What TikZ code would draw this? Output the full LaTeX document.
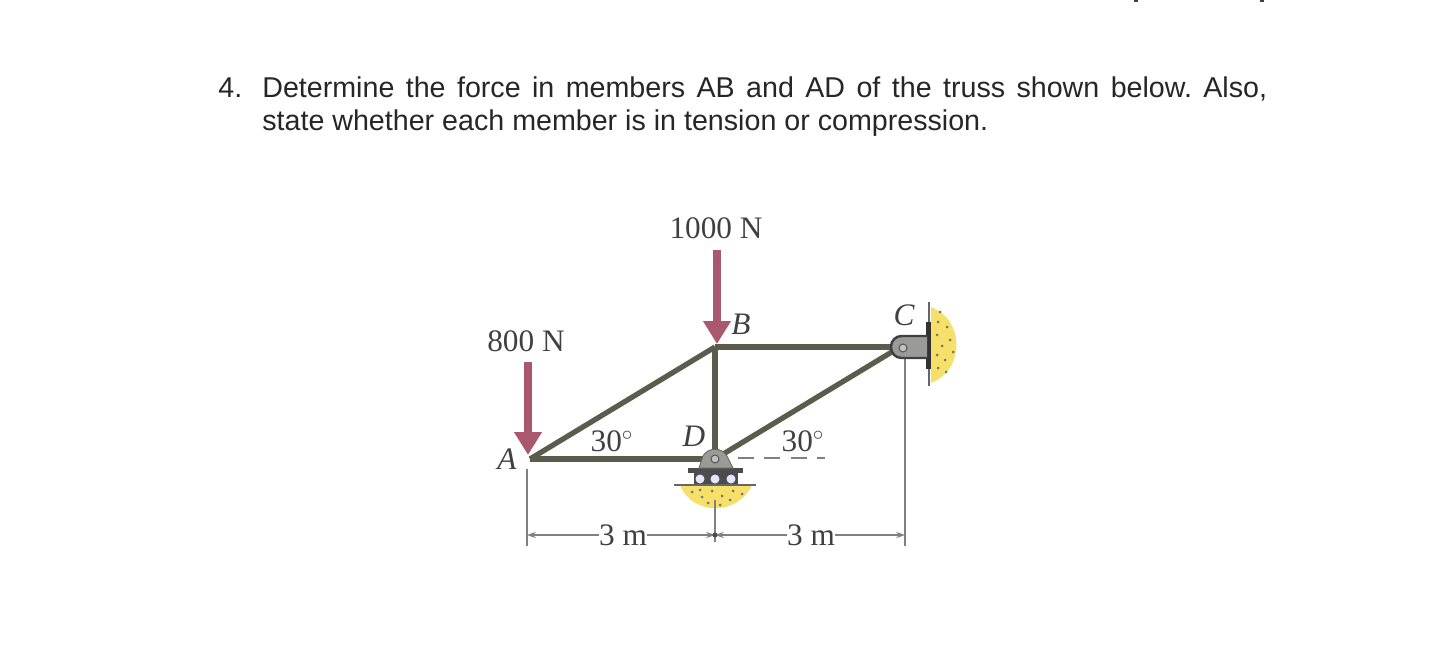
\documentclass[tikz,border=0pt]{standalone}
\usepackage{fontspec}
\setmainfont{Liberation Sans}
\newfontfamily\labelfont{Liberation Serif}
\usetikzlibrary{arrows.meta}
\definecolor{membercol}{HTML}{5A5C4C}
\definecolor{loadcol}{HTML}{A9586F}
\definecolor{sandcol}{HTML}{F7E06A}
\definecolor{steelcol}{HTML}{9A9A96}
\tikzset{
	question/.style={anchor=base west, inner sep=0pt, font=\fontsize{16.3}{20}\selectfont\frenchspacing, text=black!85},
	label/.style={inner sep=0pt, font=\labelfont\fontsize{17.8}{20}\selectfont, text=black!75},
	letter/.style={label, font=\labelfont\itshape\fontsize{17.8}{20}\selectfont},
	member/.style={draw=membercol, line width=3pt},
	load/.style={draw=loadcol, line width=4.8pt, -{Triangle[length=13pt, width=15pt]}},
	dimline/.style={draw=black!50, line width=0.7pt},
	dimtip/.style={dimline, -{Stealth[length=5pt, width=3.5pt]}},
	ground/.style={draw=black!60, line width=1.1pt},
	sand/.style={fill=sandcol, draw=none},
	speck/.style={fill=black!55, draw=none}
}
\begin{document}
\begin{tikzpicture}[x=0.02cm, y=-0.02cm]
	\useasboundingbox (0,0) rectangle (1440,652);
	% marks on the top edge
	\fill[black!75] (1134,0) rectangle (1138,2);
	\fill[black!75] (1260,0) rectangle (1264,2);
	% question
	\node[question] (num) at (218,98) {4.};
	\node[question] (line1) at (262,98) {\makebox[20.1cm][s]{Determine the force in members AB and AD of the truss shown below. Also,}};
	\node[question] (line2) at (262,131) {state whether each member is in tension or compression.};
	% joints
	\coordinate (A) at (530,459);
	\coordinate (B) at (715,347);
	\coordinate (C) at (900,347);
	\coordinate (D) at (715,459);
	% sand
	\fill[sand] (680,485) .. controls (692,516) and (738,516) .. (752,485) -- cycle;
	\fill[sand] (931,307) .. controls (965,320) and (965,370) .. (931,383) -- cycle;
	\foreach \sx/\sy in {692/492,702/497,712/491,722/496,733/491,742/494,708/503,720/505,730/500,700/490}
		\fill[speck] (\sx,\sy) circle [radius=1.5];
	\foreach \sx/\sy in {938/322,947/327,937/335,950/340,942/346,953/352,937/355,945/360,938/368,946/372,940/312}
		\fill[speck] (\sx,\sy) circle [radius=1.5];
	% dimension lines
	\coordinate (dimA) at (527,535);
	\coordinate (dimD) at (715,535);
	\coordinate (dimC) at (905,535);
	\draw[dimline] (527,469) -- (527,546);
	\draw[dimline] (715,500) -- (715,542);
	\draw[dimline] (905,357) -- (905,546);
	\node[label] (dim1) at (623,535) {3 m};
	\node[label] (dim2) at (811,535) {3 m};
	\draw[dimtip] (dim1) -- (dimA);
	\draw[dimtip] (dim1) -- (dimD);
	\draw[dimtip] (dim2) -- (dimD);
	\draw[dimtip] (dim2) -- (dimC);
	\fill[black!70] (dimD) circle [radius=2.5];
	\coordinate (dash1) at (738,458);
	\coordinate (dash2) at (825,458);
	\draw[dimline, line width=1.1pt, dash pattern=on 9pt off 6pt] (dash1) -- (dash2);
	% members
	\draw[member] (A) -- (B);
	\draw[member] (A) -- (D);
	\draw[member] (B) -- (C);
	\draw[member] (B) -- (D);
	\draw[member] (D) -- (C);
	% support at D
	\fill[black!70] (694,472) rectangle (738,485);
	\draw[ground] (674,485) -- (756,485);
	\fill[black!70] (688,468) rectangle (743,473);
	\foreach \rx in {700,715,731}
		\fill[blue!10] (\rx,479) circle [radius=4.5];
	\fill[steelcol, draw=black!60, line width=0.5pt] (699,468) -- (703,456) .. controls (708,447) and (722,447) .. (727,456) -- (733,468) -- cycle;
	\draw[black!65, fill=steelcol!60, line width=0.6pt] (D) circle [radius=4];
	% support at C
	\draw[ground, line width=1.4pt] (929,302) -- (929,386);
	\fill[black!80] (926,322) rectangle (931,369);
	\draw[black!75, fill=steelcol, line width=1.4pt, rounded corners=6pt] (927,336) -- (891,336) -- (891,358) -- (927,358);
	\draw[black!65, fill=steelcol!60, line width=0.6pt] (903,348) circle [radius=4];
	% loads
	\coordinate (load1a) at (528,362);
	\coordinate (load1b) at (528,455);
	\coordinate (load2a) at (717,250);
	\coordinate (load2b) at (717,344);
	\draw[load] (load1a) -- (load1b);
	\draw[load] (load2a) -- (load2b);
	% labels
	\node[label] (l800) at (526,341) {800 N};
	\node[label] (l1000) at (716,228) {1000 N};
	\node[label] (ang1) at (612,441) {30$^\circ$};
	\node[label] (ang2) at (803,441) {30$^\circ$};
	\node[letter] (la) at (507,459) {A};
	\node[letter] (lb) at (741,324) {B};
	\node[letter] (lc) at (904,315) {C};
	\node[letter] (ld) at (694,436) {D};
\end{tikzpicture}
\end{document}
